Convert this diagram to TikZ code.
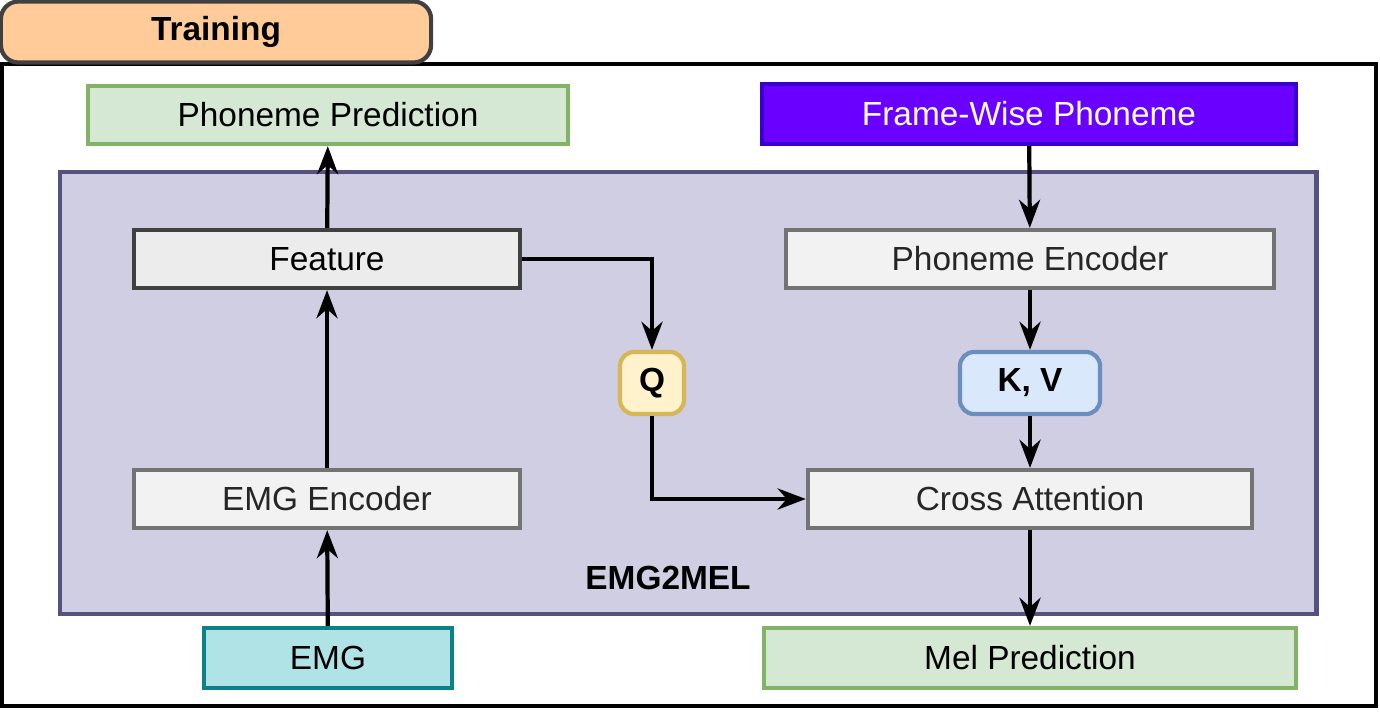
\documentclass[tikz,border=0pt]{standalone}
\usepackage{fontspec}
\setmainfont{Liberation Sans}
\usetikzlibrary{calc,arrows.meta,positioning}
\definecolor{tabfill}{HTML}{FFCC99}
\definecolor{greenfill}{HTML}{D5E8D4}
\definecolor{greenline}{HTML}{82B366}
\definecolor{purplefill}{HTML}{6A00FF}
\definecolor{purpleline}{HTML}{3700CC}
\definecolor{blockfill}{HTML}{D0CEE2}
\definecolor{blockline}{HTML}{56517E}
\definecolor{yellowfill}{HTML}{FFF2CC}
\definecolor{yellowline}{HTML}{D6B656}
\definecolor{bluefill}{HTML}{DAE8FC}
\definecolor{blueline}{HTML}{6C8EBF}
\definecolor{tealfill}{HTML}{B0E3E6}
\definecolor{tealline}{HTML}{0E8088}
\tikzset{
  box/.style = {draw, line width=1.2pt, inner sep=0pt, font=\fontsize{9.5}{11}\selectfont},
  grey/.style = {box, fill=gray!10, draw=gray!110, text=black!85},
  io/.style = {box, fill=greenfill, draw=greenline},
  key/.style = {box, rounded corners=4pt, font=\fontsize{9.5}{11}\selectfont\bfseries},
  arr/.style = {-{Stealth[length=8pt,width=6pt]}, line width=1.2pt},
}
\begin{document}
\begin{tikzpicture}[x=0.01cm, y=-0.01cm]
\useasboundingbox (0,0) rectangle (1380,712);
\draw[line width=1.2pt] (2,64) rectangle (1376,706);
\node (tab) [box, fill=tabfill, draw=black!75, rounded corners=5pt, minimum width=4.3cm, minimum height=0.61cm, font=\fontsize{9.5}{11}\selectfont\bfseries] at (216,32) {Training};

\node (block) [box, fill=blockfill, draw=blockline, minimum width=12.56cm, minimum height=4.42cm] at (688,393) {};
\node (label) [font=\fontsize{9.5}{11}\selectfont\bfseries] at (668,578) {EMG2MEL};

\node (pred) [io, minimum width=4.8cm, minimum height=0.58cm] at (328,115) {Phoneme Prediction};
\node (frame) [box, fill=purplefill, draw=purpleline, text=white, minimum width=5.34cm, minimum height=0.6cm] at (1029,114) {Frame-Wise Phoneme};
\node (feat) [grey, fill=gray!15, draw=black!75, text=black, minimum width=3.86cm, minimum height=0.58cm] at (327,259) {Feature};
\node (penc) [grey, minimum width=4.88cm, minimum height=0.58cm] at (1030,259) {Phoneme Encoder};
\node (q) [key, fill=yellowfill, draw=yellowline, minimum width=0.64cm, minimum height=0.62cm] at (652,383) {Q};
\node (kv) [key, fill=bluefill, draw=blueline, minimum width=1.4cm, minimum height=0.62cm] at (1030,383) {K, V};
\node (emgenc) [grey, minimum width=3.86cm, minimum height=0.58cm] at (327,499) {EMG Encoder};
\node (cross) [grey, minimum width=4.44cm, minimum height=0.58cm] at (1030,499) {Cross Attention};
\node (emg) [box, fill=tealfill, draw=tealline, minimum width=2.48cm, minimum height=0.6cm] at (328,658) {EMG};
\node (mel) [io, minimum width=5.32cm, minimum height=0.6cm] at (1030,658) {Mel Prediction};

\draw[arr] (emg) -- (emgenc);
\draw[arr] (emgenc) -- (feat);
\draw[arr] (feat) -- (pred);
\draw[arr] (frame) -- (penc);
\draw[arr] (penc) -- (kv);
\draw[arr] (kv) -- (cross);
\draw[arr] (cross) -- (mel);
\draw[arr] (feat.east) -| (q.north);
\draw[arr] (q.south) |- (cross.west);
\end{tikzpicture}
\end{document}
